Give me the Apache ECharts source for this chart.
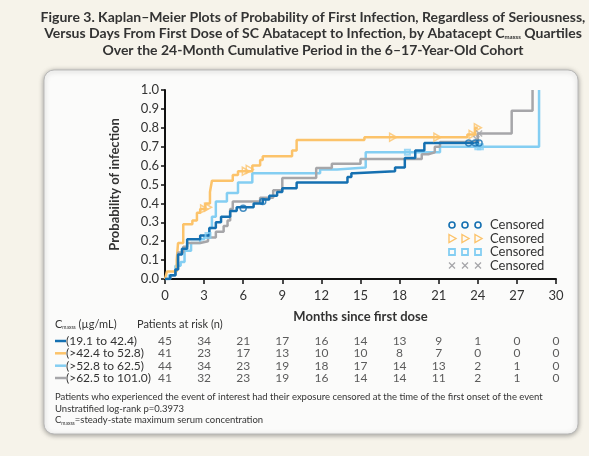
<!DOCTYPE html>
<html><head><meta charset="utf-8">
<script src="https://cdn.jsdelivr.net/npm/echarts@6/dist/echarts.min.js"></script>
<style>html,body{margin:0;padding:0;background:#f6f3ea}#c{width:589px;height:456px}</style>
</head><body><div id="c"></div>
<script>
// ---- data ----
const groupNames = ['(19.1 to 42.4)', '(>42.4 to 52.8)', '(>52.8 to 62.5)', '(>62.5 to 101.0)'];
const groupColors = ['#1570b1', '#fcc36a', '#84cef2', '#a6a6a9'];

// Kaplan-Meier steps (months, probability)
const q1Months = [0, 0.4, 0.8, 1.0, 1.3, 1.7, 2.7, 3.4, 3.9, 4.3, 5.0, 5.5, 6.8, 7.5, 8.0, 8.6, 9.0, 10.1, 14.0, 14.3, 14.5, 17.65, 18.4, 19.2, 19.9, 24.1];
const q1Prob   = [0, 0.02, 0.05, 0.13, 0.16, 0.21, 0.23, 0.27, 0.30, 0.33, 0.36, 0.38, 0.40, 0.42, 0.44, 0.46, 0.48, 0.51, 0.54, 0.56, 0.57, 0.59, 0.64, 0.68, 0.72, 0.72];
const q2Months = [0, 0.15, 0.9, 1.0, 1.4, 2.1, 2.45, 2.7, 3.1, 3.45, 3.6, 5.2, 5.6, 6.7, 7.3, 7.5, 9.75, 10.1, 15.3, 23.2, 23.8, 24.0];
const q2Prob   = [0, 0.04, 0.10, 0.19, 0.29, 0.31, 0.35, 0.37, 0.40, 0.46, 0.52, 0.55, 0.57, 0.60, 0.63, 0.65, 0.68, 0.735, 0.75, 0.765, 0.80, 0.80];
const q3Months = [0, 0.3, 0.8, 1.2, 1.5, 2.0, 2.7, 3.0, 3.4, 3.6, 3.9, 4.75, 5.6, 6.7, 11.9, 13.2, 15.4, 21.1, 28.7];
const q3Prob   = [0, 0.02, 0.07, 0.09, 0.15, 0.19, 0.21, 0.23, 0.27, 0.33, 0.41, 0.455, 0.51, 0.56, 0.58, 0.59, 0.67, 0.70, 1.0];
const q4Months = [0, 0.4, 0.8, 1.0, 1.4, 1.7, 2.7, 3.3, 3.9, 4.5, 4.8, 5.0, 5.2, 7.3, 8.3, 9.0, 11.6, 12.8, 15.0, 19.7, 20.2, 20.7, 21.1, 24.0, 26.6, 28.2];
const q4Prob   = [0, 0.02, 0.05, 0.14, 0.17, 0.19, 0.20, 0.22, 0.25, 0.28, 0.31, 0.37, 0.41, 0.43, 0.47, 0.535, 0.587, 0.61, 0.635, 0.66, 0.67, 0.70, 0.725, 0.77, 0.89, 1.0];

// censored observations
const q1CensMonths = [6.0, 7.5, 23.3, 23.8, 24.1];
const q1CensProb   = [0.375, 0.41, 0.72, 0.72, 0.72];
const q2CensMonths = [3.0, 3.3, 6.2, 6.5, 17.5, 20.9, 23.6, 24.0];
const q2CensProb   = [0.37, 0.38, 0.57, 0.58, 0.75, 0.75, 0.765, 0.80];
const q3CensMonths = [3.3, 18.6, 24.0, 24.2];
const q3CensProb   = [0.23, 0.67, 0.70, 0.70];
const q4CensMonths = [23.9, 24.1];
const q4CensProb   = [0.74, 0.77];

// patients at risk
const riskMonths = [0, 3, 6, 9, 12, 15, 18, 21, 24, 27, 30];
const riskQ1 = [45, 34, 21, 17, 16, 14, 13, 9, 1, 0, 0];
const riskQ2 = [41, 23, 17, 13, 10, 10, 8, 7, 0, 0, 0];
const riskQ3 = [44, 34, 23, 19, 18, 17, 14, 13, 2, 1, 0];
const riskQ4 = [41, 32, 23, 19, 16, 14, 14, 11, 2, 1, 0];

// ---- build ----
const FONT = 'Lato';
const TXT = '#333';
const steps = [[q1Months, q1Prob], [q2Months, q2Prob], [q3Months, q3Prob], [q4Months, q4Prob]];
const cens = [[q1CensMonths, q1CensProb], [q2CensMonths, q2CensProb], [q3CensMonths, q3CensProb], [q4CensMonths, q4CensProb]];
const risks = [riskQ1, riskQ2, riskQ3, riskQ4];
const censSymbols = ['circle', 'path://M0,0L10,6L0,12Z', 'rect', 'path://M0,0L10,10M10,0L0,10'];
const censSizes = [6, [7, 8], 5, 6];

const zip = (a, b) => a.map((v, i) => [v, b[i]]);
const series = [];
const drawOrder = [2, 1, 3, 0];
drawOrder.forEach((g) => {
  series.push({
    type: 'line', name: groupNames[g], step: 'end', showSymbol: false,
    data: zip(steps[g][0], steps[g][1]),
    lineStyle: { color: groupColors[g], width: 2.5 }, z: 2 + drawOrder.indexOf(g), silent: true
  });
});
drawOrder.forEach((g) => {
  series.push({
    type: 'scatter', data: zip(cens[g][0], cens[g][1]),
    symbol: censSymbols[g], symbolSize: censSizes[g],
    itemStyle: { color: 'rgba(0,0,0,0)', borderColor: groupColors[g], borderWidth: g === 2 ? 2 : 1.5 },
    z: 8, silent: true
  });
});
risks.forEach((arr, r) => {
  series.push({
    type: 'scatter', xAxisIndex: 1, yAxisIndex: 1, symbolSize: 0,
    data: arr.map((v, i) => [riskMonths[i], r, v]),
    label: { show: true, position: 'inside', formatter: (p) => String(p.value[2]), color: TXT, fontSize: 12, fontFamily: FONT },
    silent: true
  });
});

const graphic = [];
graphic.push({ type: 'rect', z: -10, shape: { x: 44, y: 70, width: 534, height: 364, r: 10 },
  style: { fill: '#fbfbfa', stroke: '#b9b9b9', lineWidth: 1, shadowBlur: 5, shadowColor: 'rgba(0,0,0,0.35)', shadowOffsetY: 1 } });
// title
const titleRich = { sub: { fontSize: 6, fontWeight: 'bold', fontFamily: FONT, fill: TXT, padding: [8, 0, 0, 0] } };
['Figure 3. Kaplan\u2013Meier Plots of Probability of First Infection, Regardless of Seriousness,',
 'Versus Days From First Dose of SC Abatacept to Infection, by Abatacept C{sub|maxss} Quartiles',
 'Over the 24-Month Cumulative Period in the 6\u201317-Year-Old Cohort'].forEach((t, i) => {
  graphic.push({ type: 'text', x: 313, y: 17 + i * 16.5,
    style: { text: t, fill: TXT, font: 'bold 14px ' + FONT, align: 'center', verticalAlign: 'middle', rich: titleRich } });
});
// legend (censored markers)
[225, 238.5, 252, 265.5].forEach((y, g) => {
  [452, 465, 478].forEach((x) => {
    const c = groupColors[g];
    if (g === 0) graphic.push({ type: 'circle', shape: { cx: x, cy: y, r: 3 }, style: { fill: 'none', stroke: c, lineWidth: 1.6 } });
    if (g === 1) graphic.push({ type: 'polygon', shape: { points: [[x - 3, y - 4], [x + 4, y], [x - 3, y + 4]] }, style: { fill: 'none', stroke: c, lineWidth: 1.4 } });
    if (g === 2) graphic.push({ type: 'rect', shape: { x: x - 3, y: y - 3, width: 6, height: 6 }, style: { fill: 'none', stroke: c, lineWidth: 1.8 } });
    if (g === 3) graphic.push({ type: 'polyline', shape: { points: [[x - 3, y - 3], [x + 3, y + 3]] }, style: { stroke: c, lineWidth: 1.3 } },
      { type: 'polyline', shape: { points: [[x + 3, y - 3], [x - 3, y + 3]] }, style: { stroke: c, lineWidth: 1.3 } });
  });
  graphic.push({ type: 'text', x: 490, y: y, style: { text: 'Censored', fill: TXT, font: '13px ' + FONT, verticalAlign: 'middle' } });
});
// risk table labels
const smallRich = { sub: { fontSize: 5, fontFamily: FONT, fill: TXT, padding: [6, 0, 0, 0] } };
graphic.push({ type: 'text', x: 55, y: 324, style: { text: 'C{sub|maxss} (\u00b5g/mL)', fill: TXT, font: '11px ' + FONT, verticalAlign: 'middle', rich: smallRich } });
graphic.push({ type: 'text', x: 137, y: 324, style: { text: 'Patients at risk (n)', fill: TXT, font: '11px ' + FONT, verticalAlign: 'middle' } });
[341, 353.3, 365.7, 378].forEach((y, g) => {
  graphic.push({ type: 'line', shape: { x1: 55, y1: y, x2: 66, y2: y }, style: { stroke: groupColors[g], lineWidth: 2.5 } });
  graphic.push({ type: 'text', x: 66, y: y, style: { text: groupNames[g], fill: TXT, font: '12px ' + FONT, verticalAlign: 'middle' } });
});
// footnotes
['Patients who experienced the event of interest had their exposure censored at the time of the first onset of the event',
 'Unstratified log-rank p=0.3973',
 'C{sub|maxss}=steady-state maximum serum concentration'].forEach((t, i) => {
  graphic.push({ type: 'text', x: 55, y: 397 + i * 11.5, style: { text: t, fill: TXT, font: '9.5px ' + FONT, verticalAlign: 'middle', rich: smallRich } });
});

const axisTxt = { color: TXT, fontSize: 13, fontFamily: FONT };
const option = {
  backgroundColor: '#f6f3ea',
  animation: false,
  textStyle: { fontFamily: FONT },
  grid: [
    { left: 165, right: 33, top: 90, bottom: 177 },
    { left: 165, right: 33, top: 335, height: 49 }
  ],
  xAxis: [
    { type: 'value', min: 0, max: 30, interval: 3, splitLine: { show: false },
      axisLine: { lineStyle: { color: '#111', width: 2 } },
      axisTick: { lineStyle: { color: '#111', width: 1.5 }, length: 5 },
      axisLabel: Object.assign({ margin: 10 }, axisTxt),
      name: 'Months since first dose', nameLocation: 'middle', nameGap: 31,
      nameTextStyle: { color: TXT, fontSize: 13, fontWeight: 'bold', fontFamily: FONT } },
    { gridIndex: 1, type: 'value', min: 0, max: 30, show: false }
  ],
  yAxis: [
    { type: 'value', min: 0, max: 1, interval: 0.1, splitLine: { show: false },
      axisLine: { show: true, lineStyle: { color: '#111', width: 2 } },
      axisTick: { show: true, lineStyle: { color: '#111', width: 1.5 }, length: 4 },
      axisLabel: Object.assign({ margin: 6, formatter: (v) => v.toFixed(1) }, axisTxt),
      name: 'Probability of infection', nameLocation: 'middle', nameGap: 44, nameRotate: 90,
      nameTextStyle: { color: TXT, fontSize: 13, fontWeight: 'bold', fontFamily: FONT } },
    { gridIndex: 1, type: 'category', data: [0, 1, 2, 3], inverse: true, show: false }
  ],
  series: series,
  graphic: graphic
};
const chart = echarts.init(document.getElementById('c'), null, { renderer: 'canvas' });
chart.setOption(option);
</script>
</body></html>
